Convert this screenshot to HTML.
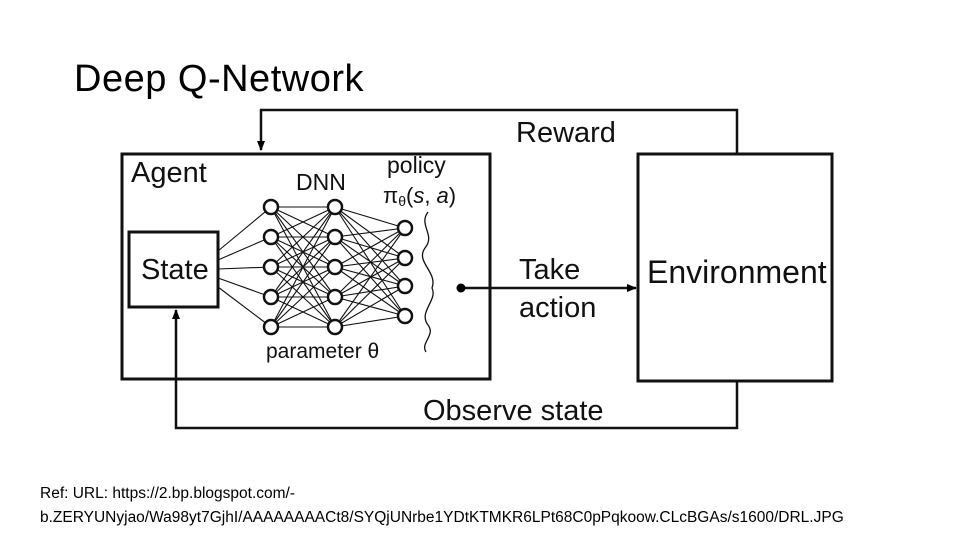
<!DOCTYPE html>
<html><head><meta charset="utf-8"><style>
html,body{margin:0;padding:0;background:#fff;}
body{width:960px;height:540px;overflow:hidden;position:relative;}
.t{position:absolute;font-family:"Liberation Sans",sans-serif;color:#000;}
</style></head><body>
<div class="t" style="left:74px;top:58px;font-size:38px;letter-spacing:0.5px;">Deep Q-Network</div>
<svg width="960" height="540" style="position:absolute;left:0;top:0" xmlns="http://www.w3.org/2000/svg">
<defs><marker id="a" markerWidth="10" markerHeight="8" refX="9" refY="4" orient="auto" markerUnits="userSpaceOnUse"><path d="M0,0L10,4L0,8z" fill="#000"/></marker></defs>
<g stroke="#111" fill="none" stroke-width="3">
<rect x="122" y="154" width="368" height="225"/>
<rect x="129" y="232" width="89" height="75"/>
<rect x="638" y="154" width="194" height="227"/>
<polyline points="737,154 737,110 261,110 261,150" marker-end="url(#a)" stroke-width="2.5"/>
<polyline points="737,381 737,428 176,428 176,310" marker-end="url(#a)" stroke-width="2.5"/>
<line x1="461" y1="288" x2="636" y2="288" marker-end="url(#a)" stroke-width="2.5"/>
</g>
<circle cx="461" cy="288" r="4.5" fill="#000"/>
<g stroke="#111" stroke-width="1.1" id="edges"></g>
<path d="M428,212 C418,225 436,235 425,248 C415,262 438,272 432,288 C438,300 418,312 428,325 C436,335 420,343 426,352" stroke="#111" stroke-width="1.3" fill="none"/>
<g id="nodes"></g>
<g font-family="Liberation Sans, sans-serif" fill="#111">
<text x="131" y="182" font-size="29">Agent</text>
<text x="296" y="190" font-size="23">DNN</text>
<text x="387" y="173" font-size="23">policy</text>
<text x="383" y="203" font-size="22">π<tspan font-size="14" dy="3">θ</tspan><tspan dy="-3">(</tspan><tspan font-style="italic">s</tspan>, <tspan font-style="italic">a</tspan>)</text>
<text x="141" y="279" font-size="29">State</text>
<text x="266" y="358" font-size="21">parameter θ</text>
<text x="516" y="142" font-size="29">Reward</text>
<text x="519" y="279" font-size="29">Take</text>
<text x="519" y="317" font-size="29">action</text>
<text x="647" y="283" font-size="32">Environment</text>
<text x="423" y="420" font-size="29">Observe state</text>
</g>
</svg>
<div class="t" style="left:40px;top:482px;font-size:15.5px;line-height:24px;letter-spacing:0px;">Ref: URL: https://2.bp.blogspot.com/-<br>b.ZERYUNyjao/Wa98yt7GjhI/AAAAAAAACt8/SYQjUNrbe1YDtKTMKR6LPt68C0pPqkoow.CLcBGAs/s1600/DRL.JPG</div>
<script>
var L1=[207,237,267,297,327],L3=[228,258,286,316],e="",n="";
L1.forEach(function(y){e+='<line x1="218" y1="'+(269+(y-267)*0.3)+'" x2="271" y2="'+y+'"/>';
L1.forEach(function(y2){e+='<line x1="271" y1="'+y+'" x2="335" y2="'+y2+'"/>';});
L3.forEach(function(y3){e+='<line x1="335" y1="'+y+'" x2="405" y2="'+y3+'"/>';});});
document.getElementById("edges").innerHTML=e;
L1.forEach(function(y){n+='<circle cx="271" cy="'+y+'" r="7"/><circle cx="335" cy="'+y+'" r="7"/>';});
L3.forEach(function(y){n+='<circle cx="405" cy="'+y+'" r="7"/>';});
var g=document.getElementById("nodes");g.setAttribute("fill","#fff");g.setAttribute("stroke","#111");g.setAttribute("stroke-width","2.5");g.innerHTML=n;
</script>
</body></html>
